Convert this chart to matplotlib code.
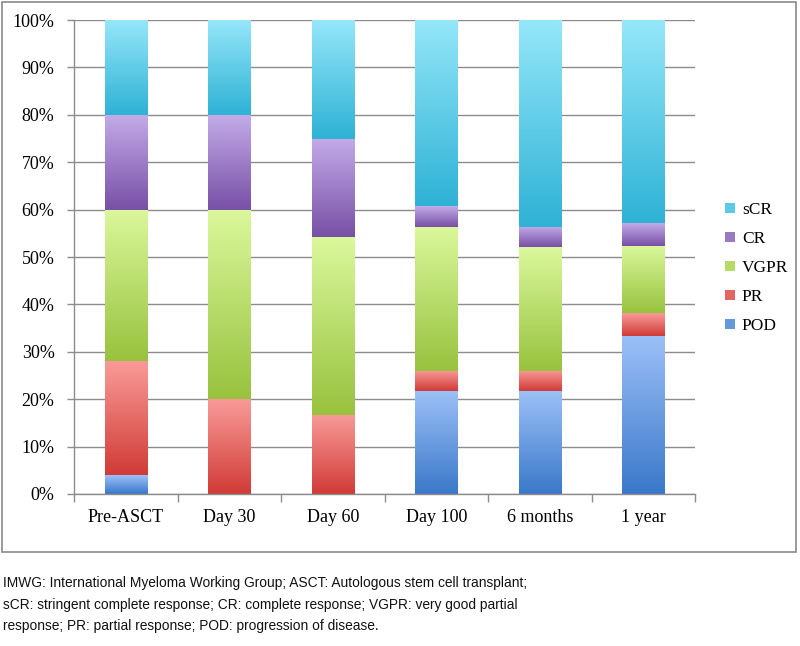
import numpy as np
import matplotlib.pyplot as plt
from matplotlib.colors import LinearSegmentedColormap
from matplotlib.patches import Rectangle, Patch

# response categories (share of patients, %)
timepoints = ['Pre-ASCT', 'Day 30', 'Day 60', 'Day 100', '6 months', '1 year']
pod = [4.0, 0.0, 0.0, 21.7, 21.7, 33.3]
pr = [24.0, 20.0, 16.7, 4.3, 4.3, 4.8]
vgpr = [32.0, 40.0, 37.5, 30.4, 26.1, 14.3]
cr = [20.0, 20.0, 20.8, 4.3, 4.3, 4.8]
scr = [20.0, 20.0, 25.0, 39.3, 43.6, 42.8]

series = ['POD', 'PR', 'VGPR', 'CR', 'sCR']
# (top colour, bottom colour) of each gradient
grad = {
    'POD': ('#9cc0f7', '#3a78c9'),
    'PR': ('#f99b99', '#d13b36'),
    'VGPR': ('#dbf89c', '#98c23e'),
    'CR': ('#c3abe8', '#7850a6'),
    'sCR': ('#95e7f9', '#2eb2d5'),
}

fig = plt.figure(figsize=(8, 6.46), dpi=100)
ax = fig.add_axes([0.0925, 0.2353, 0.7763, 0.7337])

x = np.arange(len(timepoints))
width = 0.41
bottom = np.zeros(len(timepoints))
handles = []
for name, vals in zip(series, [pod, pr, vgpr, cr, scr]):
    top_c, bot_c = grad[name]
    cmap = LinearSegmentedColormap.from_list(name, [bot_c, top_c])
    bars = ax.bar(x, vals, width, bottom=bottom, color='none', edgecolor='none')
    for b in bars:
        if b.get_height() <= 0:
            continue
        x0, y0 = b.get_x(), b.get_y()
        g = np.linspace(0, 1, 256).reshape(-1, 1)
        ax.imshow(g, cmap=cmap, origin='lower', aspect='auto',
                  extent=[x0, x0 + b.get_width(), y0, y0 + b.get_height()],
                  zorder=2, interpolation='bilinear')
    bottom += np.array(vals)
    handles.append(Patch(facecolor=cmap(0.45), edgecolor='none', label=name))

ax.set_xlim(-0.5, len(timepoints) - 0.5)
ax.set_ylim(0, 100)
ax.set_yticks(np.arange(0, 101, 10))
ax.set_yticklabels(['%d%%' % v for v in range(0, 101, 10)])
ax.set_xticks(x)
ax.set_xticklabels(timepoints)
ax.set_xticks(np.arange(-0.5, len(timepoints), 1), minor=True)
ax.grid(axis='y', color='#8c8c8c', linewidth=1.0, zorder=0)
ax.set_axisbelow(True)
for s in ['top', 'right']:
    ax.spines[s].set_visible(False)
for s in ['left', 'bottom']:
    ax.spines[s].set_color('#8c8c8c')
    ax.spines[s].set_linewidth(1.0)

ax.tick_params(axis='y', length=5, width=1, color='#8c8c8c', pad=9,
               labelsize=13, labelfontfamily='Liberation Serif')
ax.tick_params(axis='x', which='major', length=0, pad=11,
               labelsize=13, labelfontfamily='Liberation Serif')
ax.tick_params(axis='x', which='minor', length=6, width=1, color='#8c8c8c')

leg = fig.legend(handles[::-1], series[::-1], loc='center left',
                 bbox_to_anchor=(0.898, 0.585), frameon=False, borderaxespad=0,
                 prop={'family': 'Liberation Serif', 'size': 12.5},
                 handlelength=0.55, handleheight=0.55, handletextpad=0.4,
                 labelspacing=0.75)

# outer frame round the chart
fig.patches.append(Rectangle((0.002, 0.146), 0.993, 0.851, transform=fig.transFigure,
                             fill=False, edgecolor='#8a8a8a', linewidth=1.2))

caption = ['IMWG: International Myeloma Working Group; ASCT: Autologous stem cell transplant;',
           'sCR: stringent complete response; CR: complete response; VGPR: very good partial',
           'response; PR: partial response; POD: progression of disease.']
for i, line in enumerate(caption):
    fig.text(0.004, 0.0975 - i * 0.0335, line, family='Liberation Sans', fontsize=9.9,
             va='center', ha='left', color='#111111')

fig.savefig('out.png', dpi=100)
